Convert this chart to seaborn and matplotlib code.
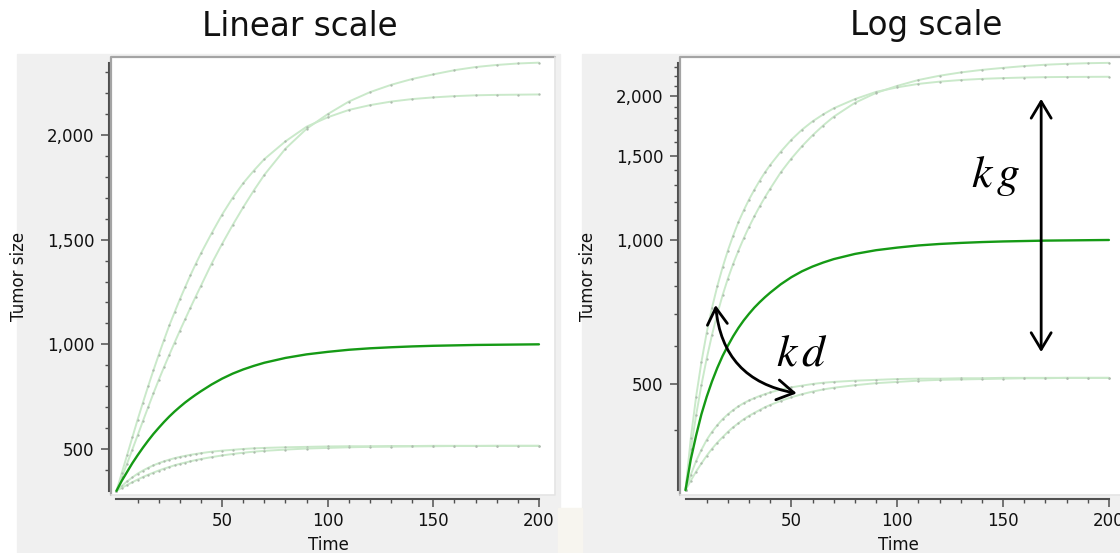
import matplotlib
matplotlib.use("Agg")
import matplotlib.pyplot as plt
from matplotlib.patches import Rectangle, FancyArrowPatch
from matplotlib.ticker import FixedLocator, FuncFormatter, NullFormatter
import seaborn as sns

sns.set_theme(style="white")
plt.rcParams["font.family"] = ["DejaVu Sans"]
plt.rcParams["mathtext.fontset"] = "stix"

# Simulated tumor size over time (one reference curve, four perturbed profiles)
time = [0, 2.5, 5, 7.5, 10, 12.5, 15, 17.5, 20, 22.5, 25, 27.5, 30, 32.5, 35, 37.5, 40,
        45, 50, 55, 60, 65, 70, 80, 90, 100, 110, 120, 130, 140, 150, 160, 170, 180, 190, 200]

reference = [300, 348, 390, 432, 470, 506, 540, 572, 601, 629, 655, 679, 701, 722, 741, 759, 776,
             808, 836, 860, 880, 897, 912, 935, 952, 964, 974, 981, 986, 990, 993, 995, 997, 998, 999, 1000]
high_slow = [300, 365, 430, 497, 565, 633, 700, 766, 830, 891, 950, 1008, 1065, 1120, 1175, 1228, 1280,
             1385, 1480, 1570, 1655, 1735, 1810, 1935, 2030, 2100, 2160, 2205, 2240, 2268, 2290, 2310,
             2325, 2335, 2342, 2346]
high_fast = [300, 385, 470, 555, 640, 721, 800, 876, 950, 1021, 1090, 1153, 1215, 1273, 1330, 1384, 1435,
             1530, 1620, 1700, 1770, 1830, 1885, 1970, 2040, 2085, 2120, 2143, 2160, 2172, 2180, 2186,
             2190, 2192, 2193, 2194]
low_fast = [300, 323, 345, 364, 382, 397, 410, 422, 432, 441, 449, 456, 462, 467, 472, 476, 480,
            487, 492, 496, 500, 503, 505, 508, 510, 512, 513, 513, 514, 514, 515, 515, 515, 515, 515, 515]
low_slow = [300, 314, 328, 341, 354, 366, 377, 387, 397, 406, 414, 422, 429, 435, 441, 447, 452,
            461, 469, 476, 482, 487, 491, 497, 502, 505, 508, 510, 511, 512, 513, 514, 514, 515, 515, 515]

faint_series = [high_slow, high_fast, low_fast, low_slow]

panel_titles = ["Linear scale", "Log scale"]
y_major = [500, 1000, 1500, 2000]
y_minor = [400, 600, 700, 800, 900, 1100, 1200, 1300, 1400,
           1600, 1700, 1800, 1900, 2100, 2200, 2300]
x_major = [50, 100, 150, 200]
x_minor = [10, 20, 30, 40, 60, 70, 80, 90, 110, 120, 130, 140, 160, 170, 180, 190]

W, H = 1120, 553
fig = plt.figure(figsize=(W / 100, H / 100), dpi=100, facecolor="white")


def fx(px):
    return px / W


def fy(py):
    return 1 - py / H


# grey panel backgrounds
fig.patches.append(Rectangle((fx(17), 0), fx(560 - 17), (553 - 54) / H,
                             transform=fig.transFigure, color="#f0f0f0", zorder=-10))
fig.patches.append(Rectangle((fx(582), 0), fx(1120 - 582), (553 - 54) / H,
                             transform=fig.transFigure, color="#f0f0f0", zorder=-10))
fig.patches.append(Rectangle((fx(558), 0), fx(24), (553 - 508) / H,
                             transform=fig.transFigure, color="#f7f5ef", zorder=-9))

box_top, box_bottom = 57, 495
ax_lin = fig.add_axes([fx(111), fy(box_bottom), fx(555 - 111), (box_bottom - box_top) / H])
ax_log = fig.add_axes([fx(680), fy(box_bottom), fx(1125 - 680), (box_bottom - box_top) / H])

main_color = "#159a15"
faint_color = "#cae9ca"
dot_color = "#adbbad"
axis_color = "#505050"

for ax in (ax_lin, ax_log):
    ax.set_facecolor("white")
    for s in faint_series:
        sns.lineplot(x=time, y=s, ax=ax, color=faint_color, linewidth=1.4,
                     marker="o", markersize=1.7, markerfacecolor=dot_color,
                     markeredgewidth=0, zorder=2)
    sns.lineplot(x=time, y=reference, ax=ax, color=main_color, linewidth=1.7, zorder=3)

    ax.set_xlim(-2.6, 207.6)
    for side in ("top", "right"):
        ax.spines[side].set_visible(False)
    ax.spines["left"].set_position(("outward", 1.5))
    ax.spines["bottom"].set_position(("outward", 3))
    for side in ("left", "bottom"):
        ax.spines[side].set_color(axis_color)
        ax.spines[side].set_linewidth(1.5)
    ax.spines["bottom"].set_bounds(0, 200)
    ax.spines["left"].set_bounds(300, 2346)

    # sunken frame around the plotting area
    ax.plot([0, 0, 1], [0, 1, 1], transform=ax.transAxes, color="#a4a4a4",
            lw=1.6, clip_on=False, zorder=5)
    ax.plot([0, 1, 1], [0, 0, 1], transform=ax.transAxes, color="#e4e4e4",
            lw=1.2, clip_on=False, zorder=5)

    ax.xaxis.set_major_locator(FixedLocator(x_major))
    ax.xaxis.set_minor_locator(FixedLocator(x_minor))
    ax.tick_params(axis="both", which="major", direction="out", length=5.5, width=1.1,
                   color=axis_color, labelsize=12, labelcolor="#111111",
                   left=True, bottom=True)
    ax.tick_params(axis="both", which="minor", direction="out", length=3.2, width=1.0,
                   color=axis_color, left=True, bottom=True)
    ax.tick_params(axis="y", which="major", pad=5)
    ax.tick_params(axis="x", which="major", pad=4)

    ax.set_xlabel("Time", fontsize=12, color="#111111")
    ax.set_ylabel("Tumor size", fontsize=12, color="#111111")
    ax.xaxis.set_label_coords(0.49, -0.094)
    ax.yaxis.set_label_coords(-0.186, 0.5)

ax_lin.set_ylim(280, 2373)
ax_log.set_yscale("log")
ax_log.set_ylim(293, 2413)

comma = FuncFormatter(lambda v, _: f"{int(round(v)):,}")
for ax in (ax_lin, ax_log):
    ax.yaxis.set_major_locator(FixedLocator(y_major))
    ax.yaxis.set_minor_locator(FixedLocator(y_minor))
    ax.yaxis.set_major_formatter(comma)
    ax.yaxis.set_minor_formatter(NullFormatter())

# panel titles
fig.text(fx(300), fy(26), panel_titles[0], fontsize=23.5, ha="center", va="center", color="#111111")
fig.text(fx(926), fy(26), panel_titles[1], fontsize=23.5, ha="center", va="center", color="#111111")

# parameter annotations on the log panel
arrow_style = "<->,head_length=0.6,head_width=0.36"
ax_log.add_patch(FancyArrowPatch((168, 583), (168, 1973), arrowstyle=arrow_style,
                                 mutation_scale=20, color="black", lw=2, zorder=6,
                                 shrinkA=0, shrinkB=0))
ax_log.add_patch(FancyArrowPatch((14.2, 731), (52.5, 478), arrowstyle=arrow_style,
                                 connectionstyle="arc3,rad=0.38",
                                 mutation_scale=20, color="black", lw=2, zorder=6,
                                 shrinkA=0, shrinkB=0))
fig.text(fx(996), fy(176), r"$k\,g$", fontsize=33, ha="center", va="center", color="black")
fig.text(fx(802), fy(353), r"$k\,d$", fontsize=33, ha="center", va="center", color="black")

fig.savefig("out.png", dpi=100, facecolor="white")
